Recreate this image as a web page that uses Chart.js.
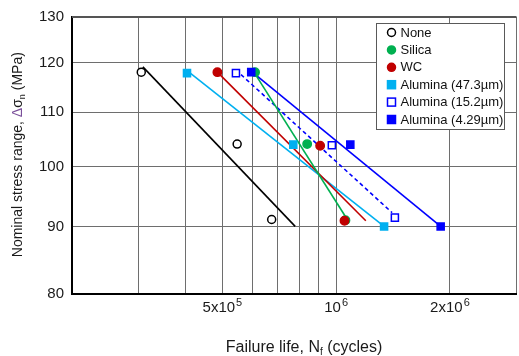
<!DOCTYPE html>
<html lang="en">
<head>
  <meta charset="UTF-8">
  <title>S-N curves</title>
  <style>
    body {
      margin: 0;
      padding: 0;
      background: #fff;
      overflow: hidden;
    }

    /* a bit wider than the window: the right frame of the plot is cut off like in the original */
    #chart-container {
      width: 523px;
      height: 356px;
    }
  </style>
</head>
<body>
  <div id="chart-container">
    <canvas id="snChart"></canvas>
  </div>

  <script src="https://cdn.jsdelivr.net/npm/chart.js"></script>
  <script>
    // ---- data (failure life in cycles, stress range in MPa) ----
    const noneLife = [3.05e5, 5.47e5, 6.75e5];
    const noneStress = [118, 104, 91.1];
    const silicaLife = [6.1e5, 8.38e5, 1.058e6];
    const silicaStress = [118, 104, 91];
    const wcLife = [4.85e5, 9.07e5, 1.052e6];
    const wcStress = [118, 103.7, 90.9];
    const al47Life = [4.03e5, 7.7e5, 1.339e6];
    const al47Stress = [117.8, 103.9, 90];
    const al15Life = [5.43e5, 9.74e5, 1.43e6];
    const al15Stress = [117.8, 103.8, 91.4];
    const al4Life = [5.96e5, 1.09e6, 1.89e6];
    const al4Stress = [118, 103.9, 90];

    // fitted lines, start and end
    const noneFitLife = [3.08e5, 7.79e5];
    const noneFitStress = [119.1, 90];
    const silicaFitLife = [6.06e5, 1.06e6];
    const silicaFitStress = [118, 91.5];
    const wcFitLife = [4.85e5, 1.198e6];
    const wcFitStress = [118, 90.9];
    const al47FitLife = [4.11e5, 1.339e6];
    const al47FitStress = [117.8, 90];
    const al15FitLife = [5.6e5, 1.406e6];
    const al15FitStress = [117.5, 92.2];
    const al4FitLife = [6.0e5, 1.89e6];
    const al4FitStress = [118, 90];

    // axes
    const xGridValues = [2e5, 3e5, 4e5, 5e5, 6e5, 7e5, 8e5, 9e5, 1e6, 2e6, 3e6];
    const xTickValues = [5e5, 1e6, 2e6];
    const xTickBase = ['5x10', '10', '2x10'];
    const xTickExp = ['5', '6', '6'];
    const yTickValues = [80, 90, 100, 110, 120, 130];

    const seriesNames = ['None', 'Silica', 'WC', 'Alumina (47.3\u00b5m)', 'Alumina (15.2\u00b5m)', 'Alumina (4.29\u00b5m)'];

    const FONT = "'Liberation Sans', Arial, sans-serif";

    function toPoints(xs, ys) {
      return xs.map((x, i) => ({ x: x, y: ys[i] }));
    }

    function markerSet(label, xs, ys, style, fill, stroke, radius, order) {
      return {
        label: label,
        data: toPoints(xs, ys),
        showLine: false,
        pointStyle: style,
        pointRadius: radius,
        pointBackgroundColor: fill,
        pointBorderColor: stroke,
        pointBorderWidth: 1.5,
        order: order
      };
    }

    function fitSet(xs, ys, color, dash) {
      return {
        label: '',
        data: toPoints(xs, ys),
        showLine: true,
        borderColor: color,
        borderWidth: 1.6,
        borderDash: dash || [],
        pointRadius: 0,
        order: 10
      };
    }

    // legend entries (marker look) in the same order as seriesNames
    const legendMarkers = [
      { style: 'circle', fill: '#ffffff', stroke: '#000000' },
      { style: 'circle', fill: '#00b050', stroke: '#00b050' },
      { style: 'circle', fill: '#c00000', stroke: '#c00000' },
      { style: 'rect', fill: '#00b0f0', stroke: '#00b0f0' },
      { style: 'rect', fill: '#ffffff', stroke: '#0000ff' },
      { style: 'rect', fill: '#0000ff', stroke: '#0000ff' }
    ];

    // draws top frame, x tick labels with exponents, axis titles and the legend box
    const decorations = {
      id: 'decorations',
      afterDraw(chart) {
        const ctx = chart.ctx;
        const area = chart.chartArea;
        const xScale = chart.scales.x;

        ctx.save();

        // top frame line
        ctx.strokeStyle = '#555555';
        ctx.lineWidth = 2;
        ctx.beginPath();
        ctx.moveTo(area.left, area.top);
        ctx.lineTo(area.right, area.top);
        ctx.stroke();

        // x tick labels: 5x10^5 etc
        ctx.fillStyle = '#1a1a1a';
        ctx.textBaseline = 'alphabetic';
        ctx.textAlign = 'left';
        xTickValues.forEach((v, i) => {
          const px = xScale.getPixelForValue(v);
          ctx.font = '15px ' + FONT;
          const bw = ctx.measureText(xTickBase[i]).width;
          ctx.font = '11px ' + FONT;
          const ew = ctx.measureText(xTickExp[i]).width;
          const start = px - (bw + 1 + ew) / 2;
          ctx.font = '15px ' + FONT;
          ctx.fillText(xTickBase[i], start, 311.5);
          ctx.font = '11px ' + FONT;
          ctx.fillText(xTickExp[i], start + bw + 1, 305.5);
        });

        // x title with subscript f
        const xParts = [
          { t: 'Failure life, N', size: 16, dy: 0 },
          { t: 'f', size: 10, dy: 3 },
          { t: ' (cycles)', size: 16, dy: 0 }
        ];
        drawParts(ctx, xParts, 304, 352);

        // y title, rotated, with subscript n
        ctx.save();
        ctx.translate(21.5, 154.7);
        ctx.rotate(-Math.PI / 2);
        const yParts = [
          { t: 'Nominal stress range, ', size: 14, dy: 0 },
          { t: '\u0394', size: 14, dy: 0, color: '#7a4f9a' },
          { t: '\u03c3', size: 14, dy: 0 },
          { t: 'n', size: 9, dy: 3 },
          { t: ' (MPa)', size: 14, dy: 0 }
        ];
        drawParts(ctx, yParts, 0, 0);
        ctx.restore();

        // legend
        const box = { left: 376.5, top: 23.5, width: 128, height: 106 };
        ctx.fillStyle = '#ffffff';
        ctx.fillRect(box.left, box.top, box.width, box.height);
        ctx.strokeStyle = '#595959';
        ctx.lineWidth = 1;
        ctx.strokeRect(box.left, box.top, box.width, box.height);

        ctx.font = '13px ' + FONT;
        ctx.textBaseline = 'middle';
        ctx.textAlign = 'left';
        seriesNames.forEach((name, i) => {
          const y = 32.5 + i * 17.4;
          const m = legendMarkers[i];
          ctx.fillStyle = m.fill;
          ctx.strokeStyle = m.stroke;
          ctx.lineWidth = 1.5;
          if (m.style === 'circle') {
            ctx.beginPath();
            ctx.arc(391.5, y, 4, 0, Math.PI * 2);
            ctx.fill();
            ctx.stroke();
          } else {
            ctx.fillRect(387.5, y - 4, 8, 8);
            ctx.strokeRect(387.5, y - 4, 8, 8);
          }
          ctx.fillStyle = '#111111';
          ctx.fillText(name, 400.5, y + 0.5);
        });

        ctx.restore();
      }
    };

    // draws text pieces one after another, centred on cx, baseline at by
    function drawParts(ctx, parts, cx, by) {
      let total = 0;
      parts.forEach(p => {
        ctx.font = p.size + 'px ' + FONT;
        p.w = ctx.measureText(p.t).width;
        total += p.w;
      });
      let x = cx - total / 2;
      ctx.textAlign = 'left';
      ctx.textBaseline = 'alphabetic';
      parts.forEach(p => {
        ctx.font = p.size + 'px ' + FONT;
        ctx.fillStyle = p.color || '#1a1a1a';
        ctx.fillText(p.t, x, by + p.dy);
        x += p.w;
      });
    }

    const ctx = document.getElementById('snChart').getContext('2d');

    new Chart(ctx, {
      type: 'scatter',
      data: {
        datasets: [
          fitSet(noneFitLife, noneFitStress, '#000000'),
          fitSet(silicaFitLife, silicaFitStress, '#00b050'),
          fitSet(wcFitLife, wcFitStress, '#c00000'),
          fitSet(al47FitLife, al47FitStress, '#00b0f0'),
          fitSet(al15FitLife, al15FitStress, '#0000ff', [4, 3]),
          fitSet(al4FitLife, al4FitStress, '#0000ff'),
          markerSet(seriesNames[0], noneLife, noneStress, 'circle', '#ffffff', '#000000', 4, 1),
          markerSet(seriesNames[1], silicaLife, silicaStress, 'circle', '#00b050', '#00b050', 4.2, 5),
          markerSet(seriesNames[2], wcLife, wcStress, 'circle', '#c00000', '#c00000', 4.2, 1),
          markerSet(seriesNames[3], al47Life, al47Stress, 'rect', '#00b0f0', '#00b0f0', 5, 1),
          markerSet(seriesNames[4], al15Life, al15Stress, 'rect', '#ffffff', '#0000ff', 5, 1),
          markerSet(seriesNames[5], al4Life, al4Stress, 'rect', '#0000ff', '#0000ff', 5, 1)
        ]
      },
      options: {
        responsive: true,
        maintainAspectRatio: false,
        animation: false,
        layout: {
          padding: { top: 17, right: 2, left: 0, bottom: 0 }
        },
        plugins: {
          legend: { display: false },
          tooltip: { enabled: false }
        },
        scales: {
          x: {
            type: 'logarithmic',
            min: 2e5,
            max: 3e6,
            afterBuildTicks: (scale) => {
              scale.ticks = xGridValues.map(v => ({ value: v }));
            },
            afterFit: (scale) => {
              scale.height = 62.5;
            },
            ticks: { display: false },
            grid: {
              color: '#6e6e6e',
              lineWidth: 1,
              drawTicks: false
            },
            border: { color: '#000000', width: 2 }
          },
          y: {
            type: 'logarithmic',
            min: 80,
            max: 130,
            afterBuildTicks: (scale) => {
              scale.ticks = yTickValues.map(v => ({ value: v }));
            },
            afterFit: (scale) => {
              scale.width = 72;
            },
            ticks: {
              padding: 8,
              color: '#1a1a1a',
              font: { family: FONT, size: 15 },
              callback: (value) => String(value)
            },
            grid: {
              color: '#6e6e6e',
              lineWidth: 1,
              drawTicks: false
            },
            border: { color: '#000000', width: 2 }
          }
        }
      },
      plugins: [decorations]
    });
  </script>
</body>
</html>
